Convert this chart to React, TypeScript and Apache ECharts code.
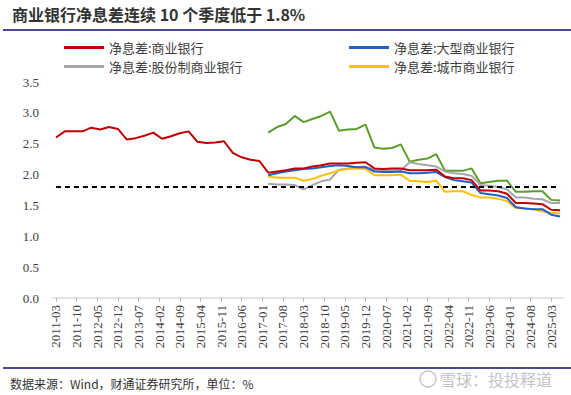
import React, { useEffect, useRef } from "react";
import * as echarts from "echarts";

const quarters = [
  "2011-03", "2011-06", "2011-09", "2011-12",
  "2012-03", "2012-06", "2012-09", "2012-12",
  "2013-03", "2013-06", "2013-09", "2013-12",
  "2014-03", "2014-06", "2014-09", "2014-12",
  "2015-03", "2015-06", "2015-09", "2015-12",
  "2016-03", "2016-06", "2016-09", "2016-12",
  "2017-03", "2017-06", "2017-09", "2017-12",
  "2018-03", "2018-06", "2018-09", "2018-12",
  "2019-03", "2019-06", "2019-09", "2019-12",
  "2020-03", "2020-06", "2020-09", "2020-12",
  "2021-03", "2021-06", "2021-09", "2021-12",
  "2022-03", "2022-06", "2022-09", "2022-12",
  "2023-03", "2023-06", "2023-09", "2023-12",
  "2024-03", "2024-06", "2024-09", "2024-12",
  "2025-03", "2025-06",
];

const tickLabels = [
  "2011-03", "2011-10", "2012-05", "2012-12", "2013-07", "2014-02", "2014-09",
  "2015-04", "2015-11", "2016-06", "2017-01", "2017-08", "2018-03", "2018-10",
  "2019-05", "2019-12", "2020-07", "2021-02", "2021-09", "2022-04", "2022-11",
  "2023-06", "2024-01", "2024-08", "2025-03",
];

// 净息差:商业银行 (2011Q1 - 2025Q2)
const commercial = [
  2.60, 2.70, 2.70, 2.70,
  2.76, 2.73, 2.77, 2.74,
  2.57, 2.59, 2.63, 2.68,
  2.58, 2.62, 2.67, 2.70,
  2.53, 2.51, 2.52, 2.54,
  2.35, 2.28, 2.24, 2.22,
  2.03, 2.05, 2.07, 2.10,
  2.10, 2.13, 2.15, 2.18,
  2.18, 2.18, 2.19, 2.20,
  2.10, 2.09, 2.10, 2.10,
  2.07, 2.07, 2.07, 2.08,
  1.97, 1.94, 1.94, 1.91,
  1.74, 1.74, 1.73, 1.69,
  1.54, 1.54, 1.53, 1.52,
  1.43, 1.42,
];

// 2017Q1 - 2025Q2
const large = [
  1.99, 2.02, 2.05, 2.07,
  2.09, 2.10, 2.12, 2.14,
  2.15, 2.14, 2.12, 2.12,
  2.05, 2.04, 2.04, 2.05,
  2.02, 2.02, 2.03, 2.04,
  1.96, 1.91, 1.89, 1.87,
  1.70, 1.68, 1.66, 1.62,
  1.47, 1.45, 1.44, 1.44,
  1.35, 1.32,
];

const jointStock = [
  1.85, 1.84, 1.84, 1.83,
  1.76, 1.83, 1.89, 1.92,
  2.08, 2.10, 2.12, 2.13,
  2.07, 2.07, 2.07, 2.07,
  2.20, 2.17, 2.15, 2.13,
  2.05, 2.02, 2.01, 1.98,
  1.83, 1.82, 1.80, 1.76,
  1.63, 1.63, 1.61, 1.60,
  1.54, 1.54,
];

const cityBank = [
  1.97, 1.95, 1.95, 1.95,
  1.90, 1.93, 1.98, 2.02,
  2.07, 2.09, 2.10, 2.09,
  1.99, 1.99, 1.99, 2.00,
  1.90, 1.89, 1.88, 1.90,
  1.72, 1.73, 1.73, 1.67,
  1.63, 1.63, 1.61, 1.57,
  1.46, 1.45, 1.44, 1.40,
  1.38, 1.37,
];

const ruralBank = [
  2.68, 2.77, 2.82, 2.95,
  2.85, 2.90, 2.95, 3.02,
  2.71, 2.73, 2.74, 2.81,
  2.44, 2.42, 2.43, 2.49,
  2.21, 2.24, 2.26, 2.33,
  2.06, 2.06, 2.06, 2.10,
  1.86, 1.88, 1.90, 1.90,
  1.72, 1.72, 1.73, 1.73,
  1.59, 1.58,
];

const threshold = 1.8;
const laterStart = quarters.indexOf("2017-03");

function buildMonths(y0: number, m0: number, y1: number, m1: number) {
  const out: string[] = [];
  let y = y0;
  let m = m0;
  while (y < y1 || (y === y1 && m <= m1)) {
    out.push(`${y}-${m < 10 ? "0" + m : m}`);
    m++;
    if (m > 12) {
      m = 1;
      y++;
    }
  }
  return out;
}

const months = buildMonths(2011, 2, 2025, 7);

const pair = (qs: string[], vals: number[]) => qs.map((q, i) => [q, vals[i]]);

export default function App() {
  const ref = useRef<HTMLDivElement>(null);

  useEffect(() => {
    if (!ref.current) return;
    const chart = echarts.init(ref.current, undefined, { renderer: "svg" });
    const showTick = (_i: number, v: string) => tickLabels.indexOf(v) >= 0;
    const lineSeries = (name: string, color: string, data: any[], extra: any = {}) => ({
      name,
      type: "line",
      data,
      symbol: "none",
      showSymbol: false,
      lineStyle: { color, width: 2 },
      itemStyle: { color },
      connectNulls: true,
      ...extra,
    });
    const legendBase = {
      padding: 0,
      itemWidth: 40,
      itemHeight: 3,
      icon: "rect",
      itemGap: 5,
      textStyle: { fontFamily: "Noto Sans CJK SC", fontSize: 13, color: "#404040" },
      selectedMode: false,
    };
    const later = quarters.slice(laterStart);
    chart.setOption({
      animation: false,
      backgroundColor: "#ffffff",
      title: {
        text: "商业银行净息差连续 10 个季度低于 1.8%",
        left: 12,
        top: 6,
        padding: 0,
        textStyle: {
          fontFamily: "Noto Sans CJK SC",
          fontSize: 16,
          fontWeight: "bold",
          color: "#333333",
        },
      },
      legend: [
        { ...legendBase, data: ["净息差:商业银行"], left: 64, top: 41 },
        { ...legendBase, data: ["净息差:大型商业银行"], left: 349, top: 41 },
        { ...legendBase, data: ["净息差:股份制商业银行"], left: 64, top: 60 },
        { ...legendBase, data: ["净息差:城市商业银行"], left: 349, top: 60 },
      ],
      grid: { left: 53, right: 8, top: 82, bottom: 97, containLabel: false },
      xAxis: {
        type: "category",
        data: months,
        boundaryGap: false,
        axisLine: { show: true, lineStyle: { color: "#d9d9d9", width: 1.5 } },
        axisTick: {
          show: true,
          interval: showTick,
          length: 4,
          lineStyle: { color: "#bfbfbf" },
        },
        axisLabel: {
          interval: showTick,
          rotate: 90,
          margin: 7,
          fontFamily: "Liberation Serif",
          fontSize: 13,
          color: "#404040",
        },
        splitLine: { show: false },
      },
      yAxis: {
        type: "value",
        min: 0,
        max: 3.5,
        interval: 0.5,
        axisLine: { show: false },
        axisTick: { show: false },
        splitLine: { show: false },
        axisLabel: {
          margin: 14,
          fontFamily: "Liberation Serif",
          fontSize: 13,
          color: "#404040",
          formatter: (v: number) => v.toFixed(1),
        },
      },
      series: [
        lineSeries("净息差:商业银行", "#C00000", pair(quarters, commercial), {
          z: 5,
          markLine: {
            silent: true,
            symbol: "none",
            label: { show: false },
            lineStyle: { color: "#000000", width: 2, type: [5, 4] },
            data: [
              [
                { coord: [quarters[0], threshold] },
                { coord: [quarters[quarters.length - 1], threshold] },
              ],
            ],
          },
        }),
        lineSeries("净息差:大型商业银行", "#2160C8", pair(later, large), { z: 4 }),
        lineSeries("净息差:股份制商业银行", "#A6A6A6", pair(later, jointStock), { z: 3 }),
        lineSeries("净息差:城市商业银行", "#FFC000", pair(later, cityBank), { z: 3 }),
        lineSeries("净息差:农村商业银行", "#5B9E2D", pair(later, ruralBank), { z: 2 }),
      ],
      graphic: [
        {
          type: "line",
          shape: { x1: 3, y1: 30, x2: 571, y2: 30 },
          style: { stroke: "#0B0B80", lineWidth: 1.5 },
        },
        {
          type: "line",
          shape: { x1: 3, y1: 368, x2: 571, y2: 368 },
          style: { stroke: "#0B0B80", lineWidth: 1.5 },
        },
        {
          type: "text",
          x: 10,
          y: 383,
          style: {
            text: "数据来源：Wind，财通证券研究所，单位：%",
            fontFamily: "Noto Sans CJK SC",
            fontSize: 12,
            fill: "#333333",
            verticalAlign: "middle",
          },
        },
        {
          type: "circle",
          shape: { cx: 428, cy: 379, r: 8 },
          style: { fill: "none", stroke: "#c8c8c8", lineWidth: 1.5 },
        },
        {
          type: "text",
          x: 440,
          y: 379,
          style: {
            text: "雪球：投投释道",
            fontFamily: "Noto Sans CJK SC",
            fontSize: 16,
            fill: "#c4c4c4",
            verticalAlign: "middle",
          },
        },
      ],
    });
    return () => chart.dispose();
  }, []);

  return (
    <div
      ref={ref}
      style={{ position: "fixed", left: 0, top: 0, width: 571, height: 395 }}
    />
  );
}
